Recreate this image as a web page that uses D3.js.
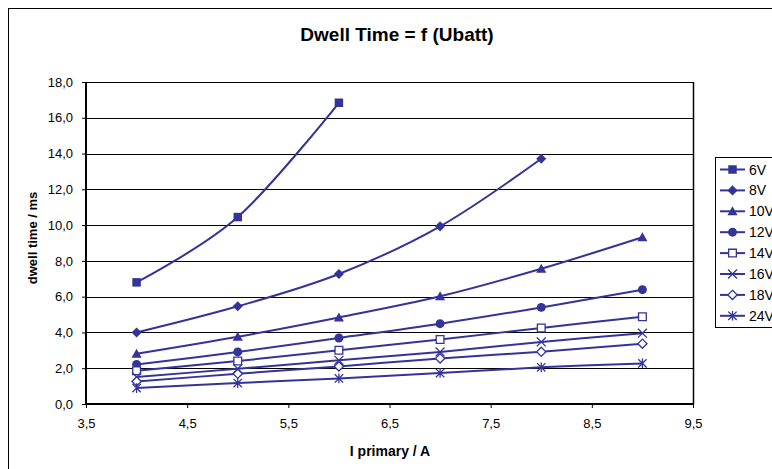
<!DOCTYPE html>
<html>
<head>
<meta charset="utf-8">
<script src="https://cdn.jsdelivr.net/npm/d3@7"></script>
<style>
  html, body { margin: 0; padding: 0; background: #fff; }
  svg { display: block; font-family: "Liberation Sans", Arial, sans-serif; }
</style>
</head>
<body>
<svg id="chart" width="772" height="469"></svg>
<script>
// ---- data ----
const xValues = [4, 5, 6, 7, 8, 9];
const seriesNames = ["6V", "8V", "10V", "12V", "14V", "16V", "18V", "24V"];
const v6  = [6.8, 10.45, 16.84];
const v8  = [4.0, 5.46, 7.27, 9.93, 13.71];
const v10 = [2.81, 3.76, 4.84, 6.02, 7.56, 9.32];
const v12 = [2.21, 2.91, 3.69, 4.49, 5.40, 6.39];
const v14 = [1.86, 2.40, 3.00, 3.61, 4.25, 4.88];
const v16 = [1.51, 1.97, 2.44, 2.91, 3.47, 3.96];
const v18 = [1.26, 1.69, 2.10, 2.55, 2.92, 3.37];
const v24 = [0.89, 1.17, 1.43, 1.73, 2.05, 2.27];
const seriesValues = [v6, v8, v10, v12, v14, v16, v18, v24];
const yTicks = [0, 2, 4, 6, 8, 10, 12, 14, 16, 18];
const xTicks = [3.5, 4.5, 5.5, 6.5, 7.5, 8.5, 9.5];
const titleText = "Dwell Time = f (Ubatt)";
const xTitle = "I primary / A";
const yTitle = "dwell time / ms";

// ---- markers ----
const C = "#333399";
const sq = { draw(c, s) { const r = Math.sqrt(s) / 2; c.rect(-r, -r, 2 * r, 2 * r); } };
const dia = { draw(c, s) { const r = Math.sqrt(s) / 2 * 1.3; c.moveTo(0, -r); c.lineTo(r, 0); c.lineTo(0, r); c.lineTo(-r, 0); c.closePath(); } };
const tri = { draw(c, s) { const r = Math.sqrt(s) / 2 * 1.2; c.moveTo(0, -r); c.lineTo(r, r * 0.8); c.lineTo(-r, r * 0.8); c.closePath(); } };
const circ = { draw(c, s) { const r = Math.sqrt(s) / 2; c.moveTo(r, 0); c.arc(0, 0, r, 0, 2 * Math.PI); } };
const xs = { draw(c, s) { const r = Math.sqrt(s) / 2; c.moveTo(-r, -r); c.lineTo(r, r); c.moveTo(r, -r); c.lineTo(-r, r); } };
const star = { draw(c, s) { const r = Math.sqrt(s) / 2; c.moveTo(-r, -r); c.lineTo(r, r); c.moveTo(r, -r); c.lineTo(-r, r); c.moveTo(0, -r * 1.15); c.lineTo(0, r * 1.15); } };
const markers = [
  { type: sq, size: 72, fill: C, stroke: "none" },
  { type: dia, size: 60, fill: C, stroke: "none" },
  { type: tri, size: 70, fill: C, stroke: "none" },
  { type: circ, size: 80, fill: C, stroke: "none" },
  { type: sq, size: 60, fill: "#fff", stroke: C },
  { type: xs, size: 80, fill: "none", stroke: C },
  { type: dia, size: 50, fill: "#fff", stroke: C },
  { type: star, size: 70, fill: "none", stroke: C }
];

// ---- layout ----
const svg = d3.select("#chart");
const pLeft = 86, pRight = 693, pTop = 82, pBottom = 404;
const x = d3.scaleLinear().domain([3.5, 9.5]).range([pLeft, pRight]);
const y = d3.scaleLinear().domain([0, 18]).range([pBottom, pTop]);
const fmt = d => d3.format(".1f")(d).replace(".", ",");

// outer chart border
svg.append("rect").attr("x", 8.5).attr("y", 8.5).attr("width", 900).attr("height", 600)
  .attr("fill", "#fff").attr("stroke", "#000").attr("stroke-width", 1);

// gridlines
svg.append("g").selectAll("line").data(yTicks.filter(d => d > 0)).join("line")
  .attr("x1", pLeft).attr("x2", pRight)
  .attr("y1", d => Math.round(y(d)) + 0.5).attr("y2", d => Math.round(y(d)) + 0.5)
  .attr("stroke", "#000").attr("stroke-width", 1);

// right border
svg.append("line").attr("x1", pRight + 0.5).attr("x2", pRight + 0.5).attr("y1", pTop).attr("y2", pBottom)
  .attr("stroke", "#000").attr("stroke-width", 1.5);

// axes
const yAxis = d3.axisLeft(y).tickValues(yTicks).tickFormat(fmt).tickSize(4).tickPadding(9);
const xAxis = d3.axisBottom(x).tickValues(xTicks).tickFormat(fmt).tickSize(4).tickPadding(11);
const gy = svg.append("g").attr("transform", `translate(${pLeft},0)`).call(yAxis);
const gx = svg.append("g").attr("transform", `translate(0,${pBottom})`).call(xAxis);
[gx, gy].forEach(g => {
  g.select(".domain").attr("stroke", "#000").attr("stroke-width", 2);
  g.selectAll(".tick line").attr("stroke", "#000");
  g.selectAll(".tick text").attr("font-size", 13).attr("fill", "#000")
    .attr("font-family", "Liberation Sans, Arial, sans-serif");
});
gy.select(".domain").attr("d", `M0,${pTop}V${pBottom}`);
gx.select(".domain").attr("d", `M${pLeft},0H${pRight}`);

// series lines
const line = d3.line().x(d => x(d[0])).y(d => y(d[1])).curve(d3.curveCardinal.tension(0));
seriesValues.forEach((vals, i) => {
  const pts = vals.map((v, j) => [xValues[j], v]);
  svg.append("path").attr("d", line(pts)).attr("fill", "none")
    .attr("stroke", C).attr("stroke-width", 2);
});
seriesValues.forEach((vals, i) => {
  const m = markers[i];
  const sym = d3.symbol().type(m.type).size(m.size);
  svg.append("g").selectAll("path").data(vals.map((v, j) => [xValues[j], v])).join("path")
    .attr("transform", d => `translate(${x(d[0])},${y(d[1])})`)
    .attr("d", sym).attr("fill", m.fill).attr("stroke", m.stroke).attr("stroke-width", 1.3);
});

// titles
svg.append("text").attr("x", 397).attr("y", 41).attr("text-anchor", "middle")
  .attr("font-size", 19).attr("font-weight", "bold").text(titleText);
svg.append("text").attr("x", 390).attr("y", 456).attr("text-anchor", "middle")
  .attr("font-size", 14).attr("font-weight", "bold").text(xTitle);
svg.append("text").attr("transform", "translate(37,238) rotate(-90)").attr("text-anchor", "middle")
  .attr("font-size", 13).attr("font-weight", "bold").text(yTitle);

// legend
const lg = svg.append("g");
lg.append("rect").attr("x", 715.5).attr("y", 157.5).attr("width", 100).attr("height", 170)
  .attr("fill", "#fff").attr("stroke", "#000").attr("stroke-width", 1);
seriesNames.forEach((name, i) => {
  const ly = 169.5 + i * 20.9;
  const m = markers[i];
  lg.append("line").attr("x1", 720).attr("x2", 745).attr("y1", ly).attr("y2", ly)
    .attr("stroke", C).attr("stroke-width", 2);
  lg.append("path").attr("transform", `translate(732.5,${ly})`)
    .attr("d", d3.symbol().type(m.type).size(m.size)())
    .attr("fill", m.fill).attr("stroke", m.stroke).attr("stroke-width", 1.3);
  lg.append("text").attr("x", 749).attr("y", ly + 5).attr("font-size", 14).text(name);
});
</script>
</body>
</html>
